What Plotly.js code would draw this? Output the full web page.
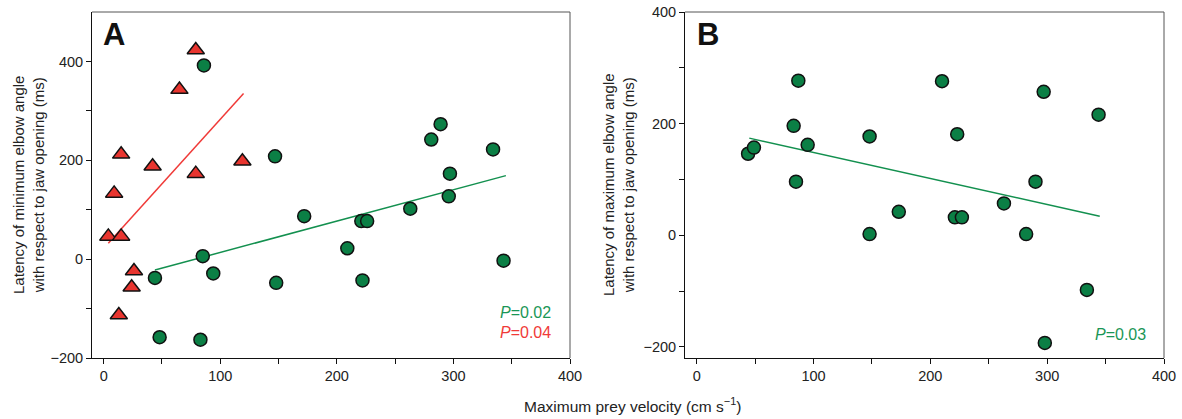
<!DOCTYPE html>
<html>
<head>
<meta charset="utf-8">
<script src="https://cdn.plot.ly/plotly-3.0.1.min.js"></script>
<style>html,body{margin:0;padding:0;background:#fff;}#chart{width:1182px;height:419px;}</style>
</head>
<body>
<div id="chart"></div>
<script>
// Panel A: green circles (velocity vs latency of minimum elbow angle)
const velocityA = [44, 48, 83, 85, 86, 94, 147, 148, 172, 209, 221, 222, 226, 263, 281, 289, 296, 297, 334, 343];
const minLatencyA = [-38, -158, -163, 6, 392, -29, 208, -48, 87, 22, 77, -43, 77, 102, 242, 273, 127, 173, 222, -3];
// Panel A: red triangles
const velocityRed = [4, 9, 13, 15, 15, 24, 26, 42, 65, 79, 79, 119];
const minLatencyRed = [46, 133, -113, 212, 46, -57, -24, 188, 343, 423, 173, 198];
// Regression lines (endpoints)
const fitGreenA_x = [44, 345];
const fitGreenA_y = [-22, 169];
const fitRed_x = [4, 120];
const fitRed_y = [32, 335];
// Panel B: green circles (velocity vs latency of maximum elbow angle)
const velocityB = [44, 49, 83, 85, 87, 95, 148, 148, 173, 210, 221, 223, 227, 263, 282, 290, 297, 298, 334, 344];
const maxLatencyB = [146, 157, 196, 96, 277, 162, 177, 2, 42, 276, 32, 181, 32, 57, 2, 96, 257, -193, -98, 216];
const fitGreenB_x = [45, 345];
const fitGreenB_y = [174, 34];

const xTicks = [0, 100, 200, 300, 400];
const yTicksA = [-200, 0, 200, 400];
const yTicksB = [-200, 0, 200, 400];

const GREEN = '#0b7f45';
const GREEN_LINE = '#13904f';
const RED = '#e8352f';
const RED_LINE = '#f03a38';
const FONT = 'Liberation Sans, Arial, sans-serif';

const circ = {symbol: 'circle', size: 13, color: GREEN, line: {color: '#111', width: 1.5}};
const tri = {symbol: 'triangle-up', size: 15, color: RED, line: {color: '#111', width: 1.5}};

const data = [
  {x: fitRed_x, y: fitRed_y, mode: 'lines', line: {color: RED_LINE, width: 1.5}, xaxis: 'x', yaxis: 'y', hoverinfo: 'skip'},
  {x: fitGreenA_x, y: fitGreenA_y, mode: 'lines', line: {color: GREEN_LINE, width: 1.5}, xaxis: 'x', yaxis: 'y', hoverinfo: 'skip'},
  {x: velocityRed, y: minLatencyRed, mode: 'markers', marker: tri, xaxis: 'x', yaxis: 'y'},
  {x: velocityA, y: minLatencyA, mode: 'markers', marker: circ, xaxis: 'x', yaxis: 'y'},
  {x: fitGreenB_x, y: fitGreenB_y, mode: 'lines', line: {color: GREEN_LINE, width: 1.5}, xaxis: 'x2', yaxis: 'y2', hoverinfo: 'skip'},
  {x: velocityB, y: maxLatencyB, mode: 'markers', marker: circ, xaxis: 'x2', yaxis: 'y2'}
];

function xAxis(domain, anchor) {
  return {
    domain: domain, anchor: anchor, range: [-10, 400], tickvals: xTicks, ticktext: xTicks.map(String),
    showline: true, linecolor: '#111', linewidth: 1, ticks: 'outside', ticklen: 5, tickcolor: '#111',
    minor: {tickvals: [50, 150, 250, 350], ticks: 'outside', ticklen: 5, tickcolor: '#111', showgrid: false},
    showgrid: false, zeroline: false, tickfont: {family: FONT, size: 14.5, color: '#222'}
  };
}
function yAxis(range, ticks, minorTicks, anchor) {
  return {
    domain: [0, 1], anchor: anchor, range: range, tickvals: ticks, ticktext: ticks.map(v => v < 0 ? '\u2212' + Math.abs(v) : String(v)),
    showline: true, linecolor: '#111', linewidth: 1, ticks: 'outside', ticklen: 5, tickcolor: '#111',
    minor: {tickvals: minorTicks, ticks: 'outside', ticklen: 5, tickcolor: '#111', showgrid: false},
    showgrid: false, zeroline: false, tickfont: {family: FONT, size: 14.5, color: '#222'}
  };
}

const W = 1182;
const layout = {
  width: 1182, height: 419,
  margin: {l: 0, r: 0, t: 12, b: 61, pad: 0},
  paper_bgcolor: '#fff', plot_bgcolor: '#fff',
  showlegend: false,
  font: {family: FONT, color: '#222'},
  xaxis: xAxis([92 / W, 570 / W], 'y'),
  yaxis: yAxis([-200, 500], yTicksA, [-100, 100, 300], 'x'),
  xaxis2: xAxis([685 / W, 1164 / W], 'y2'),
  yaxis2: yAxis([-220, 400], yTicksB, [-100, 100, 300], 'x2'),
  shapes: [
    {type: 'line', xref: 'x domain', yref: 'y domain', x0: 0, x1: 1, y0: 1, y1: 1, line: {color: '#555', width: 1}},
    {type: 'line', xref: 'x domain', yref: 'y domain', x0: 1, x1: 1, y0: 0, y1: 1, line: {color: '#555', width: 1}},
    {type: 'line', xref: 'x2 domain', yref: 'y2 domain', x0: 0, x1: 1, y0: 1, y1: 1, line: {color: '#555', width: 1}},
    {type: 'line', xref: 'x2 domain', yref: 'y2 domain', x0: 1, x1: 1, y0: 0, y1: 1, line: {color: '#555', width: 1}}
  ],
  annotations: [
    {text: '<b>A</b>', xref: 'paper', yref: 'paper', x: 114 / W, y: (358 - 34) / 346, xanchor: 'center', yanchor: 'middle', showarrow: false, font: {family: FONT, size: 31, color: '#111'}},
    {text: '<b>B</b>', xref: 'paper', yref: 'paper', x: 708 / W, y: (358 - 34) / 346, xanchor: 'center', yanchor: 'middle', showarrow: false, font: {family: FONT, size: 31, color: '#111'}},
    {text: '<i>P</i>=0.02', xref: 'paper', yref: 'paper', x: 553 / W, y: (358 - 312) / 346, xanchor: 'right', yanchor: 'middle', showarrow: false, font: {family: FONT, size: 16, color: '#1a9656'}},
    {text: '<i>P</i>=0.04', xref: 'paper', yref: 'paper', x: 553 / W, y: (358 - 332) / 346, xanchor: 'right', yanchor: 'middle', showarrow: false, font: {family: FONT, size: 16, color: '#f03a38'}},
    {text: '<i>P</i>=0.03', xref: 'paper', yref: 'paper', x: 1148 / W, y: (358 - 334) / 346, xanchor: 'right', yanchor: 'middle', showarrow: false, font: {family: FONT, size: 16, color: '#1a9656'}},
    {text: 'Latency of minimum elbow angle<br>with respect to jaw opening (ms)', xref: 'paper', yref: 'paper', x: 28 / W, y: 0.5, xanchor: 'center', yanchor: 'middle', textangle: -90, showarrow: false, font: {family: FONT, size: 15, color: '#222'}},
    {text: 'Latency of maximum elbow angle<br>with respect to jaw opening (ms)', xref: 'paper', yref: 'paper', x: 618 / W, y: 0.5, xanchor: 'center', yanchor: 'middle', textangle: -90, showarrow: false, font: {family: FONT, size: 15, color: '#222'}},
    {text: 'Maximum prey velocity (cm s<sup>\u22121</sup>)', xref: 'paper', yref: 'paper', x: 632 / W, y: (358 - 405) / 346, xanchor: 'center', yanchor: 'middle', showarrow: false, font: {family: FONT, size: 15.5, color: '#222'}}
  ]
};

Plotly.newPlot('chart', data, layout, {displayModeBar: false, staticPlot: true});
</script>
</body>
</html>
